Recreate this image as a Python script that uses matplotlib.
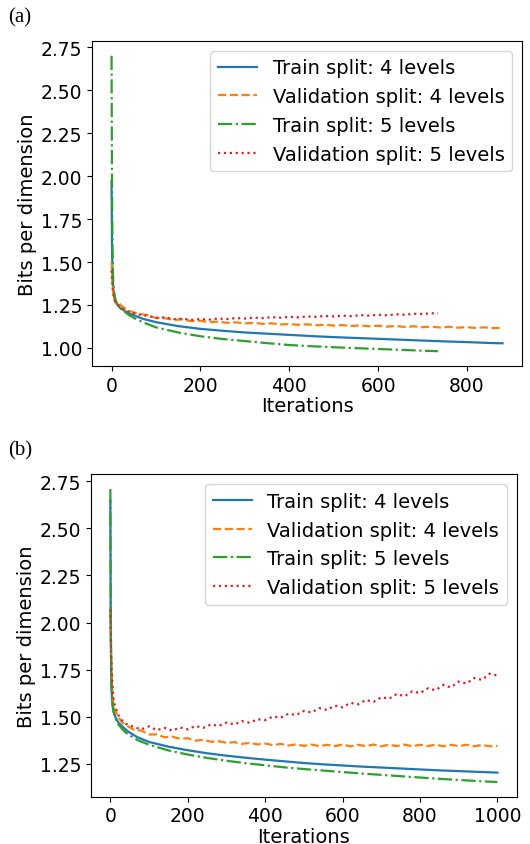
import numpy as np
import matplotlib.pyplot as plt


# 1. Data

# (a)
a_train4_x = [0, 1, 2, 3, 4, 6, 8, 10, 15, 20, 30, 40, 50, 70, 100, 150, 200, 250, 300, 350, 400,
              450, 500, 550, 600, 650, 700, 750, 800, 850, 880]
a_train4_y = [1.97, 1.60, 1.45, 1.38, 1.34, 1.30, 1.28, 1.265, 1.245, 1.232, 1.215, 1.20, 1.19, 1.17,
              1.15, 1.127, 1.111, 1.10, 1.09, 1.083, 1.076, 1.069, 1.063, 1.058, 1.053, 1.048, 1.043,
              1.038, 1.034, 1.029, 1.027]

a_train5_x = [0, 1, 2, 3, 4, 6, 8, 10, 15, 20, 30, 40, 50, 70, 100, 150, 200, 250, 300, 350, 400,
              450, 500, 550, 600, 650, 700, 735]
a_train5_y = [2.70, 1.95, 1.60, 1.45, 1.38, 1.32, 1.29, 1.27, 1.245, 1.23, 1.21, 1.19, 1.175, 1.15,
              1.12, 1.09, 1.068, 1.052, 1.04, 1.028, 1.017, 1.01, 1.004, 0.999, 0.994, 0.989, 0.984,
              0.981]

a_val4_x = [0, 2, 4, 6, 8, 10, 15, 20, 30, 40, 60, 80, 100, 120, 140, 160, 180, 200, 220, 240, 260,
            280, 300, 320, 340, 360, 380, 400, 420, 440, 460, 480, 500, 520, 540, 560, 580, 600,
            620, 640, 660, 680, 700, 720, 740, 760, 780, 800, 820, 840, 860, 880]
a_val4_y = [1.50, 1.38, 1.32, 1.29, 1.27, 1.26, 1.27, 1.25, 1.23, 1.215, 1.198, 1.192, 1.174, 1.173,
            1.163, 1.166, 1.156, 1.158, 1.150, 1.153, 1.146, 1.149, 1.143, 1.146, 1.140, 1.143,
            1.137, 1.139, 1.135, 1.138, 1.132, 1.135, 1.130, 1.133, 1.128, 1.131, 1.126, 1.129,
            1.124, 1.128, 1.122, 1.126, 1.121, 1.124, 1.119, 1.123, 1.118, 1.121, 1.116, 1.120,
            1.115, 1.117]

a_val5_x = [0, 2, 4, 6, 8, 10, 20, 30, 40, 60, 80, 100, 120, 140, 160, 180, 200, 220, 240, 260, 280,
            300, 320, 340, 360, 380, 400, 420, 440, 460, 480, 500, 520, 540, 560, 580, 600, 620,
            640, 660, 680, 700, 720, 735]
a_val5_y = [1.45, 1.36, 1.31, 1.29, 1.27, 1.26, 1.235, 1.22, 1.21, 1.195, 1.187, 1.176, 1.177, 1.168,
            1.170, 1.164, 1.168, 1.165, 1.171, 1.168, 1.174, 1.171, 1.177, 1.173, 1.179, 1.176,
            1.181, 1.178, 1.183, 1.181, 1.186, 1.183, 1.188, 1.185, 1.191, 1.188, 1.193, 1.190,
            1.196, 1.193, 1.199, 1.197, 1.202, 1.200]

# (b)
b_train4_x = [0, 1, 2, 3, 4, 6, 8, 10, 15, 20, 30, 40, 50, 70, 100, 150, 200, 250, 300, 350, 400,
              450, 500, 550, 600, 650, 700, 750, 800, 850, 900, 950, 1000]
b_train4_y = [2.65, 2.00, 1.75, 1.65, 1.60, 1.555, 1.53, 1.515, 1.49, 1.47, 1.45, 1.43, 1.415, 1.39,
              1.365, 1.34, 1.321, 1.305, 1.292, 1.281, 1.271, 1.262, 1.253, 1.246, 1.240, 1.234,
              1.229, 1.224, 1.219, 1.214, 1.210, 1.206, 1.202]

b_train5_x = [0, 1, 2, 3, 4, 6, 8, 10, 15, 20, 30, 40, 50, 70, 100, 150, 200, 250, 300, 350, 400,
              450, 500, 550, 600, 650, 700, 750, 800, 850, 900, 950, 1000]
b_train5_y = [2.71, 2.10, 1.80, 1.68, 1.62, 1.56, 1.53, 1.51, 1.48, 1.46, 1.435, 1.415, 1.40, 1.375,
              1.35, 1.32, 1.298, 1.28, 1.265, 1.252, 1.241, 1.23, 1.221, 1.213, 1.205, 1.197,
              1.190, 1.183, 1.176, 1.169, 1.163, 1.157, 1.152]

b_val4_x = [0, 2, 4, 6, 8, 10, 20, 30, 40, 60, 80, 100, 120, 140, 160, 180, 200, 220, 240, 260, 280,
            300, 320, 340, 360, 380, 400, 420, 440, 460, 480, 500, 520, 540, 560, 580, 600, 620,
            640, 660, 680, 700, 720, 740, 760, 780, 800, 820, 840, 860, 880, 900, 920, 940, 960,
            980, 1000]
b_val4_y = [2.05, 1.80, 1.68, 1.60, 1.56, 1.54, 1.50, 1.47, 1.455, 1.43, 1.425, 1.405, 1.405, 1.39,
            1.393, 1.382, 1.385, 1.372, 1.376, 1.366, 1.369, 1.360, 1.364, 1.355, 1.360, 1.352,
            1.357, 1.348, 1.355, 1.346, 1.352, 1.344, 1.351, 1.343, 1.350, 1.343, 1.351, 1.342,
            1.350, 1.343, 1.351, 1.342, 1.350, 1.343, 1.351, 1.342, 1.350, 1.343, 1.351, 1.342,
            1.350, 1.343, 1.350, 1.342, 1.349, 1.342, 1.344]

b_val5_x = [0, 2, 4, 6, 8, 10, 20, 30, 40, 60, 80, 100, 120, 140, 160, 180, 200, 220, 240, 260, 280,
            300, 320, 340, 360, 380, 400, 420, 440, 460, 480, 500, 520, 540, 560, 580, 600, 620,
            640, 660, 680, 700, 720, 740, 760, 780, 800, 820, 840, 860, 880, 900, 920, 940, 960,
            980, 1000]
b_val5_y = [2.07, 1.85, 1.72, 1.65, 1.60, 1.57, 1.51, 1.48, 1.462, 1.445, 1.432, 1.448, 1.428, 1.44,
            1.425, 1.442, 1.432, 1.450, 1.440, 1.458, 1.450, 1.468, 1.458, 1.476, 1.467, 1.486,
            1.481, 1.500, 1.494, 1.515, 1.508, 1.530, 1.522, 1.545, 1.535, 1.558, 1.549, 1.573,
            1.565, 1.588, 1.578, 1.603, 1.595, 1.620, 1.608, 1.634, 1.625, 1.650, 1.640, 1.668,
            1.655, 1.686, 1.676, 1.705, 1.695, 1.728, 1.718]

labels = ["Train split: 4 levels", "Validation split: 4 levels",
          "Train split: 5 levels", "Validation split: 5 levels"]


# 2. Figure

plt.rcParams["font.size"] = 14
plt.rcParams["xtick.labelsize"] = 13.5
plt.rcParams["ytick.labelsize"] = 13.5

fig = plt.figure(figsize=(5.3, 8.45), dpi=100)

ax_a = fig.add_axes([0.1736, 0.5657, 0.8114, 0.3846])
ax_b = fig.add_axes([0.1717, 0.0560, 0.8033, 0.3815])

panels = [
    (ax_a, "(a)", 0.979,
     [(a_train4_x, a_train4_y), (a_val4_x, a_val4_y), (a_train5_x, a_train5_y), (a_val5_x, a_val5_y)],
     [1.00, 1.25, 1.50, 1.75, 2.00, 2.25, 2.50, 2.75], [0, 200, 400, 600, 800]),
    (ax_b, "(b)", 0.466,
     [(b_train4_x, b_train4_y), (b_val4_x, b_val4_y), (b_train5_x, b_train5_y), (b_val5_x, b_val5_y)],
     [1.25, 1.50, 1.75, 2.00, 2.25, 2.50, 2.75], [0, 200, 400, 600, 800, 1000]),
]

styles = [("C0", "-"), ("C1", "--"), ("C2", "-."), ("C3", ":")]

for ax, tag, tag_y, series, yticks, xticks in panels:
    for (x, y), (c, ls), lab in zip(series, styles, labels):
        ax.plot(x, y, color=c, linestyle=ls, linewidth=1.6, label=lab)
    ax.set_yticks(yticks)
    ax.set_xticks(xticks)
    ax.set_xlabel("Iterations", labelpad=1)
    ax.set_ylabel("Bits per dimension", labelpad=3)
    ax.legend(loc="upper right", fontsize=14)
    fig.text(0.015, tag_y, tag, family="Liberation Serif", fontsize=15, va="center")

fig.savefig("out.png", dpi=100)
